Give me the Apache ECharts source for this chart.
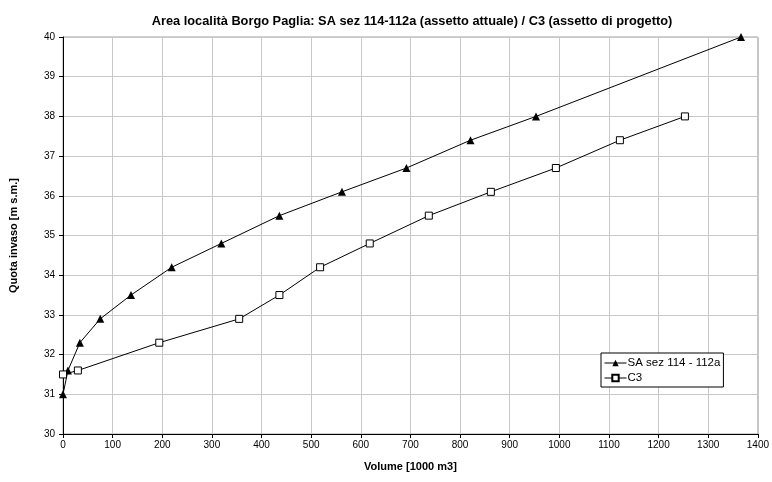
<!DOCTYPE html>
<html>
<head>
<meta charset="utf-8">
<script src="https://cdn.jsdelivr.net/npm/echarts@6/dist/echarts.min.js"></script>
<style>html,body{margin:0;padding:0;background:#fff;}#c{width:772px;height:482px;}</style>
</head>
<body>
<div id="c"></div>
<script>
var titleText = 'Area località Borgo Paglia: SA sez 114-112a (assetto attuale) / C3 (assetto di progetto)';
var xTitle = 'Volume [1000 m3]';
var yTitle = 'Quota invaso [m s.m.]';
var seriesNames = ['SA sez 114 - 112a', 'C3'];
var saVol = [0, 10, 34, 75, 137, 219, 319, 436, 562, 692, 821, 953, 1366];
var saQuota = [31.0, 31.6, 32.3, 32.9, 33.5, 34.2, 34.8, 35.5, 36.1, 36.7, 37.4, 38.0, 40.0];
var c3Vol = [0, 30, 194, 355, 436, 518, 618, 737, 862, 993, 1122, 1253];
var c3Quota = [31.5, 31.6, 32.3, 32.9, 33.5, 34.2, 34.8, 35.5, 36.1, 36.7, 37.4, 38.0];

function pairs(xs, ys){ return xs.map(function(x,i){ return [x, ys[i]]; }); }

var chart = echarts.init(document.getElementById('c'), null, {renderer:'canvas'});
var font = 'Liberation Sans, Arial, sans-serif';
chart.setOption({
  animation: false,
  backgroundColor: '#fff',
  textStyle: {fontFamily: font},
  title: {
    text: titleText, left: 407, top: 10, textAlign: 'center',
    textStyle: {fontSize: 12.8, fontWeight: 'bold', color: '#000', fontFamily: font}
  },
  grid: {left: 63, right: 12, top: 37, bottom: 48, show: true, borderColor: '#a0a0a0', borderWidth: 1, backgroundColor: 'transparent'},
  legend: {
    orient: 'vertical', left: 601, top: 353,
    backgroundColor: '#fff', borderColor: '#000', borderWidth: 1, borderRadius: 0,
    padding: [4, 3, 3, 3], itemGap: 3, itemWidth: 22, itemHeight: 8,
    lineStyle: {width: 1},
    textStyle: {fontSize: 11.5, color: '#000', fontFamily: font, padding: [0,0,0,-4]},
    data: seriesNames
  },
  xAxis: {
    type: 'value', min: 0, max: 1400, interval: 100,
    name: xTitle, nameLocation: 'middle', nameGap: 27,
    nameTextStyle: {fontSize: 11, fontWeight: 'bold', color: '#000', fontFamily: font},
    axisLine: {show: true, lineStyle: {color: '#000', width: 1}},
    axisTick: {show: true, length: 4, lineStyle: {color: '#000'}},
    axisLabel: {fontSize: 10, color: '#000', margin: 6, fontFamily: font, formatter: function(v){ return String(v); }},
    splitLine: {show: true, lineStyle: {color: '#c8c8c8', width: 1}}
  },
  yAxis: {
    type: 'value', min: 30, max: 40, interval: 1,
    name: yTitle, nameLocation: 'middle', nameGap: 44, nameRotate: 90,
    nameTextStyle: {fontSize: 11, fontWeight: 'bold', color: '#000', fontFamily: font},
    axisLine: {show: true, lineStyle: {color: '#000', width: 1}},
    axisTick: {show: true, length: 4, lineStyle: {color: '#000'}},
    axisLabel: {fontSize: 10, color: '#000', margin: 8, fontFamily: font},
    splitLine: {show: true, lineStyle: {color: '#c8c8c8', width: 1}}
  },
  series: [
    {
      name: seriesNames[0], type: 'line', data: pairs(saVol, saQuota),
      symbol: 'triangle', symbolSize: 8,
      lineStyle: {color: '#000', width: 1},
      itemStyle: {color: '#000', borderColor: '#000', borderWidth: 0}
    },
    {
      name: seriesNames[1], type: 'line', data: pairs(c3Vol, c3Quota),
      symbol: 'rect', symbolSize: 7,
      lineStyle: {color: '#000', width: 1},
      itemStyle: {color: '#fff', borderColor: '#000', borderWidth: 1}
    }
  ]
});
</script>
</body>
</html>
